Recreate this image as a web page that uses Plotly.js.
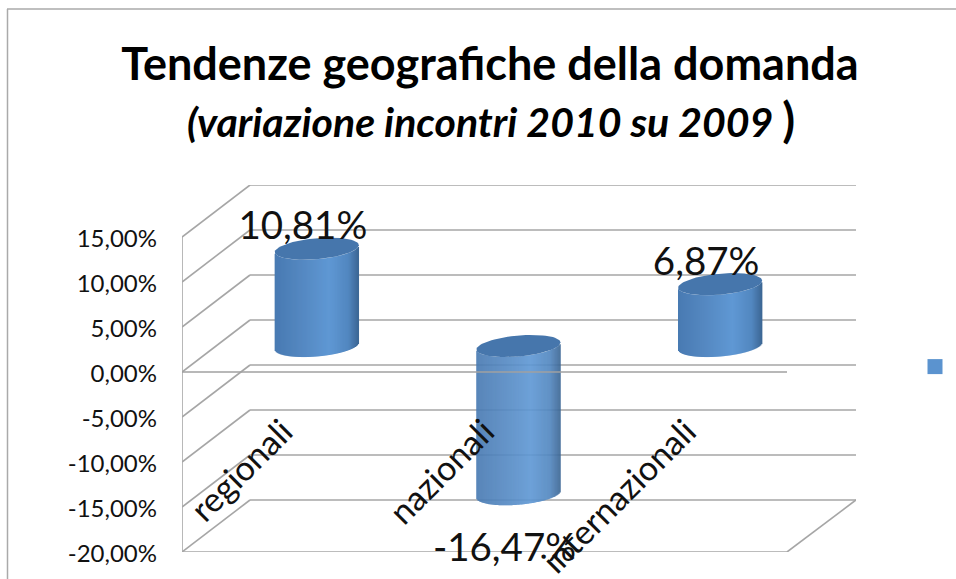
<!DOCTYPE html>
<html>
<head>
<meta charset="utf-8">
<script src="https://cdn.plot.ly/plotly-3.0.1.min.js"></script>
<style>html,body{margin:0;padding:0;background:#fff;overflow:hidden}#chart{width:956px;height:579px}</style>
</head>
<body>
<div id="chart"></div>
<script>
// ---- data ----
const categories = ['regionali', 'nazionali', 'internazionali'];
const values = [10.81, -16.47, 6.87];
const valueLabels = ['10,81%', '-16,47%', '6,87%'];
const yTicks = [15, 10, 5, 0, -5, -10, -15, -20];
const yTickLabels = ['15,00%', '10,00%', '5,00%', '0,00%', '-5,00%', '-10,00%', '-15,00%', '-20,00%'];
const titleText = '<b>Tendenze geografiche della domanda</b>';
const subtitleText = '<b><i>(variazione incontri 2010 su 2009 </i><span style="font-size:47px">)</span></b>';

// ---- layout geometry (pixels in the page) ----
const W = 956, H = 579;
const L = 182, R = 856, T = 185, B = 552;
const catPx = 201.67, yPx = 9;            // pixels per category, pixels per 1%
const depthX = 68 / catPx, depthY = 52 / yPx; // oblique projection of the floor depth
const xMin = -0.5, xMax = xMin + (R - L) / catPx;
const frontRight = xMin + (787 - L) / catPx;
const yMin = -20, yMax = yMin + (B - T) / yPx;
const px2x = p => (p - L) / (R - L), px2y = p => (B - p) / (B - T);

const halfW = 42 / catPx, capB = 10.5 / yPx, capTilt = 3.5 / yPx, slices = 84;
const gradStops = [[-1, [72, 122, 178]], [-0.4, [84, 135, 192]], [0.3, [95, 152, 212]], [0.75, [82, 135, 192]], [1, [60, 102, 148]]];
function shade(t) {
  for (let i = 1; i < gradStops.length; i++) {
    if (t <= gradStops[i][0]) {
      const a = gradStops[i - 1], b = gradStops[i], f = (t - a[0]) / (b[0] - a[0]);
      return 'rgb(' + a[1].map((c, k) => Math.round(c + (b[1][k] - c) * f)).join(',') + ')';
    }
  }
  return 'rgb(60,102,148)';
}

// ---- cylinder bodies: one bar series made of thin vertical staves ----
const sx = [], sBase = [], sLen = [], sCol = [], sW = [];
values.forEach((v, i) => {
  const cx = i + depthX / 2;
  const hi = Math.max(v, 0) + depthY / 2, lo = Math.min(v, 0) + depthY / 2;
  for (let s = 0; s < slices; s++) {
    const t = (s + 0.5) / slices * 2 - 1;
    const off = -capB * Math.sqrt(1 - t * t) + capTilt * t;
    sx.push(cx + t * halfW);
    sBase.push(lo + off);
    sLen.push(hi - lo);
    sCol.push(shade(t));
    sW.push(2 * halfW / slices * 1.4);
  }
});
const traces = [{
  type: 'bar', x: sx, y: sLen, base: sBase, width: sW,
  marker: { color: sCol, line: { width: 0 } },
  hoverinfo: 'skip', showlegend: false
}];

// ---- cylinder caps ----
values.forEach((v, i) => {
  const cx = i + depthX / 2, hi = Math.max(v, 0) + depthY / 2;
  const ex = [], ey = [];
  for (let a = 0; a <= 72; a++) {
    const th = a / 72 * 2 * Math.PI;
    ex.push(cx + Math.cos(th) * halfW);
    ey.push(hi + capB * Math.sin(th) + capTilt * Math.cos(th));
  }
  traces.push({
    type: 'scatter', mode: 'lines', x: ex, y: ey, fill: 'toself',
    fillcolor: '#4676ac', line: { width: 0, color: '#4676ac' },
    hoverinfo: 'skip', showlegend: false
  });
});

// ---- value labels ----
traces.push({
  type: 'scatter', mode: 'text',
  x: values.map((v, i) => i + depthX / 2 - 14 / catPx),
  y: values.map(v => v >= 0 ? v + depthY / 2 + 19 / yPx : v + depthY / 2 - 57 / yPx),
  text: valueLabels, textposition: 'middle center',
  textfont: { family: 'Lato', size: 38.5, color: '#111' },
  cliponaxis: false, hoverinfo: 'skip', showlegend: false
});

// ---- legend key (series without a name) ----
traces.push({
  type: 'scatter', mode: 'markers', x: [null], y: [null], name: ' ',
  marker: { symbol: 'square', size: 15, color: '#5b93cf' },
  hoverinfo: 'skip', showlegend: true
});

// ---- 3D frame ----
const grey = '#a6a6a6';
const line = (x0, y0, x1, y1, layer, c) => ({
  type: 'line', xref: 'x', yref: 'y', x0, y0, x1, y1, layer: layer || 'below',
  line: { color: c || grey, width: 1.6 }
});
const shapes = [];
yTicks.forEach(v => {
  shapes.push(line(xMin, v, xMin + depthX, v + depthY));            // side wall
  shapes.push(line(xMin + depthX, v + depthY, xMax, v + depthY));   // back wall
});
shapes.push(line(xMin, yTicks[0], xMin, yMin));                     // vertical axis
shapes.push(line(xMin, yMin, frontRight, yMin));                    // front floor edge
shapes.push(line(frontRight, yMin, xMax, yMin + depthY));           // right floor edge
shapes.push(line(xMin, 0, frontRight, 0, 'above', '#a0a0a0'));      // zero plane front edge
// outer frame of the picture
shapes.push({ type: 'line', xref: 'paper', yref: 'paper', x0: px2x(7), y0: px2y(9), x1: px2x(W), y1: px2y(9), layer: 'below', line: { color: '#aaa', width: 1.5 } });
shapes.push({ type: 'line', xref: 'paper', yref: 'paper', x0: px2x(7.5), y0: px2y(9), x1: px2x(7.5), y1: px2y(H), layer: 'below', line: { color: '#aaa', width: 1.5 } });

const layout = {
  width: W, height: H, autosize: false,
  paper_bgcolor: '#fff', plot_bgcolor: 'rgba(0,0,0,0)',
  margin: { l: L, r: W - R, t: T, b: H - B, pad: 0, autoexpand: false },
  barmode: 'overlay',
  title: {
    text: titleText, x: 490 / W, xanchor: 'center', xref: 'container',
    y: 1 - 64 / H, yanchor: 'middle', yref: 'container', automargin: false,
    font: { family: 'Lato', size: 45, color: '#000' }
  },
  annotations: [{
    text: subtitleText, xref: 'paper', yref: 'paper', x: px2x(491), y: px2y(119),
    xanchor: 'center', yanchor: 'middle', showarrow: false,
    font: { family: 'Lato', size: 41, color: '#000' }
  }],
  xaxis: {
    type: 'linear', range: [xMin, xMax], showgrid: false, zeroline: false, showline: false,
    tickmode: 'array', tickvals: categories.map((c, i) => i), ticktext: categories,
    tickangle: -45, ticks: '', anchor: 'free', position: px2y(404),
    tickfont: { family: 'Lato', size: 34, color: '#111' }
  },
  yaxis: {
    range: [yMin, yMax], showgrid: false, zeroline: false, showline: false,
    tickmode: 'array', tickvals: yTicks, ticktext: yTickLabels,
    ticks: '', ticklabelstandoff: 24, ticklabelshift: 2,
    tickfont: { family: 'Lato', size: 24, color: '#111' }
  },
  shapes,
  showlegend: true,
  legend: { x: px2x(915), y: px2y(351), xanchor: 'left', yanchor: 'top', bgcolor: 'rgba(0,0,0,0)', font: { size: 14 } }
};
Plotly.newPlot('chart', traces, layout, { displayModeBar: false, staticPlot: true });
</script>
</body>
</html>
